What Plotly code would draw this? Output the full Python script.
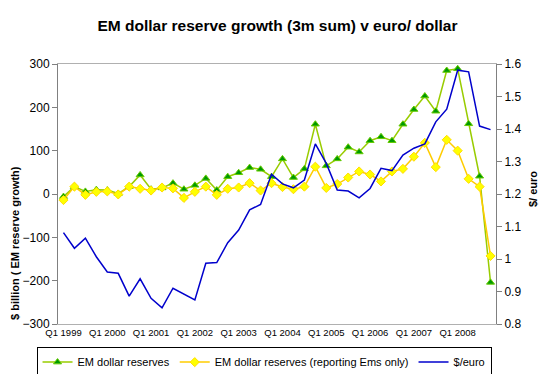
import plotly.graph_objects as go

# ---- data (Q1 1999 .. Q4 2008, quarterly) ----
years = list(range(1999, 2009))
quarters = [f"Q{q} {y}" for y in years for q in (1, 2, 3, 4)]
tick_labels = [f"Q1 {y}" for y in years]

em_reserves = [-6, 17, 6, 10, 9, 1, 17, 44, 11, 14, 25, 11, 20, 36, 9, 40,
               49, 61, 57, 40, 81, 38, 58, 161, 65, 81, 108, 97, 123, 132,
               123, 161, 195, 226, 191, 285, 289, 162, 41, -204]
em_reporting = [-14, 17, -2, 5, 6, -1, 17, 12, 8, 15, 13, -9, 5, 17, -2, 12,
                15, 25, 8, 25, 16, 11, 17, 63, 14, 23, 38, 52, 45, 29,
                52, 58, 86, 118, 62, 125, 100, 35, 17, -143]
usd_euro = [1.081, 1.033, 1.064, 1.007, 0.960, 0.956, 0.886, 0.939, 0.879, 0.850,
            0.910, 0.892, 0.874, 0.987, 0.989, 1.050, 1.089, 1.151, 1.168, 1.261,
            1.231, 1.219, 1.243, 1.354, 1.294, 1.212, 1.209, 1.188, 1.217, 1.279,
            1.272, 1.320, 1.341, 1.354, 1.422, 1.461, 1.581, 1.576, 1.409, 1.398]

right_ticks = [0.8, 0.9, 1.0, 1.1, 1.2, 1.3, 1.4, 1.5, 1.6]
right_text = ["0.8", "0.9", "1", "1.1", "1.2", "1.3", "1.4", "1.5", "1.6"]

FONT = "Liberation Sans, Arial, sans-serif"
x = list(range(len(quarters)))

fig = go.Figure()
fig.add_trace(go.Scatter(
    x=x, y=em_reserves, name="EM dollar reserves", mode="lines+markers",
    line=dict(color="#99CC00", width=1.5),
    marker=dict(symbol="triangle-up", size=7, color="#009900",
                line=dict(color="#66CC00", width=1)),
    text=quarters, hoverinfo="text+y"))
fig.add_trace(go.Scatter(
    x=x, y=em_reporting, name="EM dollar reserves (reporting Ems only)",
    mode="lines+markers",
    line=dict(color="#FFCC00", width=1.5),
    marker=dict(symbol="diamond", size=7, color="#FFFF00",
                line=dict(color="#FFDD00", width=1)),
    text=quarters, hoverinfo="text+y"))
fig.add_trace(go.Scatter(
    x=x, y=usd_euro, name="$/euro", mode="lines", yaxis="y2",
    line=dict(color="#0000CC", width=1.5),
    text=quarters, hoverinfo="text+y"))

# page body has an 8px default margin, so the figure is 8px smaller
fig.update_layout(
    width=539, height=366,
    margin=dict(l=50, r=51, t=56, b=50, autoexpand=False),
    paper_bgcolor="white", plot_bgcolor="white",
    font=dict(family=FONT, color="black"),
    title=dict(text="<b>EM dollar reserve growth (3m sum) v euro/ dollar</b>",
               x=0.5, xanchor="center", y=0.953, yanchor="middle",
               font=dict(size=15.5, family=FONT, color="black")),
    xaxis=dict(range=[-0.5, len(x) - 0.5], tickvals=x[::4], ticktext=tick_labels,
               showline=True, linecolor="#b0b0b0", linewidth=1, mirror=True,
               ticks="", showgrid=False, zeroline=False, automargin=False,
               tickfont=dict(size=9.5, family=FONT)),
    xaxis2=dict(overlaying="x", anchor="free", position=0.5,
                range=[-0.5, len(x) - 0.5],
                tickvals=[i + 3.5 for i in range(0, 36, 4)],
                showline=True, linecolor="#505050", linewidth=1,
                ticks="outside", ticklen=4, tickcolor="#505050",
                showticklabels=False, showgrid=False, zeroline=False,
                automargin=False),
    yaxis=dict(range=[-300, 300], dtick=100, showline=True, linecolor="#808080",
               ticks="outside", ticklen=5, tickcolor="#808080",
               showgrid=False, zeroline=False, automargin=False,
               tickfont=dict(size=12, family=FONT)),
    yaxis2=dict(overlaying="y", side="right", range=[0.8, 1.6],
                tickvals=right_ticks, ticktext=right_text,
                showline=True, linecolor="#808080",
                ticks="outside", ticklen=5, tickcolor="#808080",
                showgrid=False, zeroline=False, automargin=False,
                tickfont=dict(size=12, family=FONT)),
    legend=dict(orientation="h", x=-0.049, xanchor="left",
                y=-0.087, yanchor="top",
                bordercolor="black", borderwidth=1, bgcolor="white",
                font=dict(size=11, family=FONT), traceorder="normal",
                itemwidth=30, tracegroupgap=0),
    showlegend=True,
    annotations=[
        dict(text="<b>$ billion ( EM reserve growth)</b>", textangle=-90,
             xref="paper", yref="paper", x=-0.097, y=0.31,
             xanchor="center", yanchor="middle",
             showarrow=False, font=dict(size=11, family=FONT)),
        dict(text="<b>$/ euro</b>", textangle=-90,
             xref="paper", yref="paper", x=1.0845, y=0.519,
             xanchor="center", yanchor="middle",
             showarrow=False, font=dict(size=11, family=FONT)),
    ],
)

fig.write_html("out.html")
